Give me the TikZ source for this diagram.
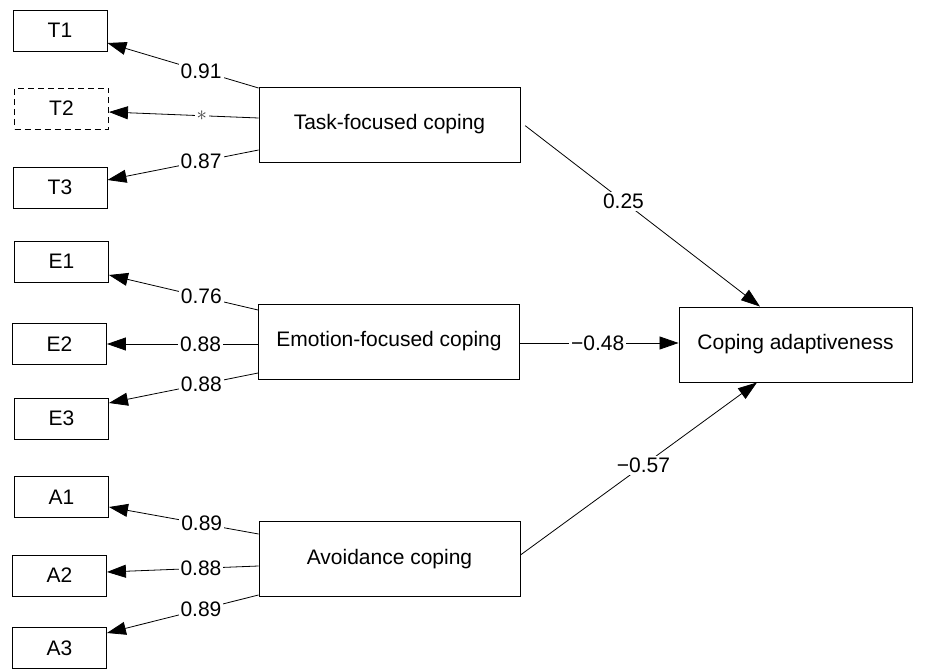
\documentclass[tikz,border=0pt]{standalone}
\usepackage{fontspec}
\setmainfont{Liberation Sans}
\usetikzlibrary{arrows.meta}

\tikzset{
  indicator/.style={draw,line width=0.9pt,minimum width=94pt,minimum height=41pt,inner sep=0pt},
  latent/.style={draw,line width=0.9pt,minimum width=261pt,minimum height=75pt,inner sep=0pt},
  loading/.style={line width=0.8pt,-{Triangle[length=19pt,width=13pt]}},
  coef/.style={fill=white,inner sep=2pt,pos=0.38}
}

\begin{document}
\begin{tikzpicture}[x=1pt,y=-1pt,font=\fontsize{21}{25}\selectfont]
    \useasboundingbox (0,0) rectangle (927,669);
    % indicators
    \node[indicator] (t1) at (60,30.5) {T1};
    \node[indicator,dashed,dash pattern=on 6pt off 4pt] (t2) at (61.5,108.5) {T2};
    \node[indicator] (t3) at (60,187.5) {T3};
    \node[indicator] (e1) at (61.5,261.5) {E1};
    \node[indicator] (e2) at (59.5,344) {E2};
    \node[indicator] (e3) at (61.5,418.5) {E3};
    \node[indicator] (a1) at (61.5,497) {A1};
    \node[indicator] (a2) at (59.5,575.5) {A2};
    \node[indicator] (a3) at (59.5,648) {A3};
    % latent factors
    \node[latent] (task) at (389.5,124.5) {Task-focused coping};
    \node[latent] (emotion) at (389,341.5) {Emotion-focused coping};
    \node[latent] (avoid) at (389.5,559) {Avoidance coping};
    \node[latent,minimum width=233pt] (adapt) at (795.5,344.5) {Coping adaptiveness};
    % loadings
    \draw[loading] ([yshift=36.5pt]task.west) -- node[coef]{0.91} ([yshift=-12.5pt]t1.east);
    \draw[loading] ([yshift=6.5pt]task.west) -- node[coef,text=black!75]{$\ast$} ([yshift=-3.5pt]t2.east);
    \draw[loading] ([yshift=-25.5pt]task.west) -- node[coef]{0.87} ([yshift=7.5pt]t3.east);
    \draw[loading] ([yshift=31.5pt]emotion.west) -- node[coef]{0.76} ([yshift=-13.5pt]e1.east);
    \draw[loading] ([yshift=-2.5pt]emotion.west) -- node[coef]{0.88} (e2.east);
    \draw[loading] ([yshift=-31.5pt]emotion.west) -- node[coef]{0.88} ([yshift=15.5pt]e3.east);
    \draw[loading] ([yshift=25pt]avoid.west) -- node[coef]{0.89} ([yshift=-10pt]a1.east);
    \draw[loading] ([yshift=-7pt]avoid.west) -- node[coef]{0.88} ([yshift=3.5pt]a2.east);
    \draw[loading] ([yshift=-36pt]avoid.west) -- node[coef]{0.89} ([yshift=15pt]a3.east);
    % paths to outcome
    \draw[loading,shorten <=6pt] ([yshift=2.5pt]task.east) -- node[coef,pos=0.43]{0.25} ([xshift=-35.5pt]adapt.north);
    \draw[loading] ([yshift=-1.5pt]emotion.east) -- node[coef,pos=0.49]{−0.48} ([yshift=1.5pt]adapt.west);
    \draw[loading] ([yshift=4pt]avoid.east) -- node[coef,pos=0.52]{−0.57} ([xshift=-38.5pt]adapt.south);
\end{tikzpicture}
\end{document}
